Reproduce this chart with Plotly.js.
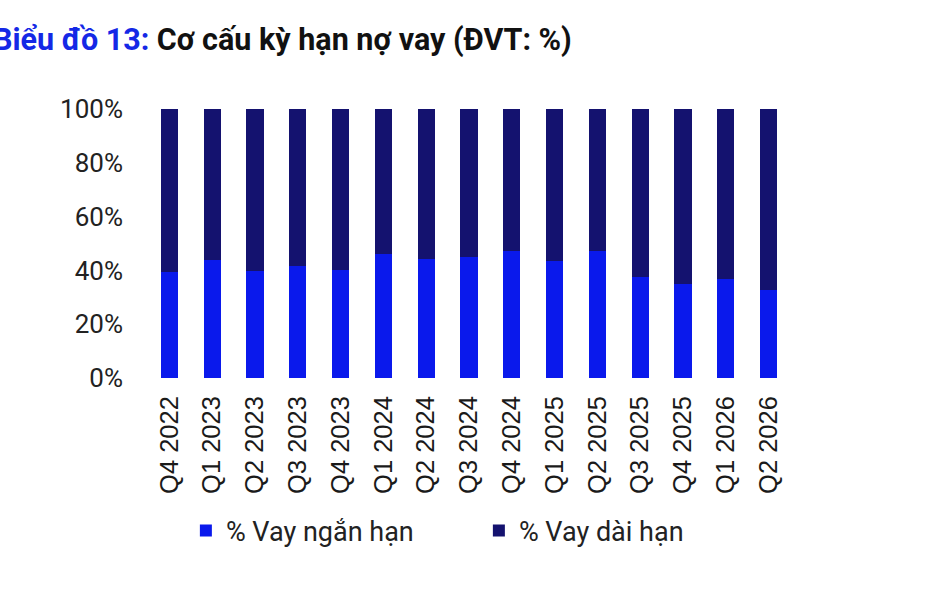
<!DOCTYPE html>
<html>
<head>
<meta charset="utf-8">
<script src="https://cdn.plot.ly/plotly-3.0.1.min.js"></script>
<style>
  html, body { margin: 0; padding: 0; background: #fff; }
  #chart { width: 934px; height: 598px; }
</style>
</head>
<body>
<div id="chart"></div>
<script>
// data
var quarters = ['Q4 2022','Q1 2023','Q2 2023','Q3 2023','Q4 2023','Q1 2024','Q2 2024','Q3 2024',
                'Q4 2024','Q1 2025','Q2 2025','Q3 2025','Q4 2025','Q1 2026','Q2 2026'];
var shortTerm = [39.3, 44.0, 39.8, 41.5, 40.0, 46.1, 44.2, 45.0, 47.3, 43.4, 47.3, 37.4, 34.8, 36.8, 32.6];
var longTerm = shortTerm.map(function(v){ return +(100 - v).toFixed(1); });
var seriesNames = ['% Vay ngắn hạn', '% Vay dài hạn'];
var yTicks = [0, 20, 40, 60, 80, 100];

var fontFam = 'Roboto, "Noto Sans", Arial, sans-serif';
var catFam = '"Liberation Sans", Arial, sans-serif';

var data = [
  {
    type: 'bar',
    name: seriesNames[0],
    x: quarters,
    y: shortTerm,
    marker: { color: '#0a19ec', line: { width: 0 } },
    hoverinfo: 'skip'
  },
  {
    type: 'bar',
    name: seriesNames[1],
    x: quarters,
    y: longTerm,
    marker: { color: '#14126f', line: { width: 0 } },
    hoverinfo: 'skip'
  }
];

var layout = {
  width: 934,
  height: 598,
  barmode: 'stack',
  bargap: 0.6,
  paper_bgcolor: '#fff',
  plot_bgcolor: '#fff',
  margin: { l: 148, r: 144, t: 109, b: 220, pad: 0 },
  font: { family: fontFam, color: '#222', size: 24 },
  xaxis: {
    type: 'category',
    tickangle: -90,
    showgrid: false,
    showline: false,
    zeroline: false,
    ticks: '',
    ticklabelstandoff: 12,
    tickfont: { family: catFam, size: 25.5, color: '#1a1a1a' }
  },
  yaxis: {
    range: [0, 100],
    tickvals: yTicks,
    ticktext: yTicks.map(function(v){ return v + '%'; }),
    showgrid: false,
    showline: false,
    zeroline: false,
    ticks: '',
    ticklabelstandoff: 24,
    tickfont: { family: fontFam, size: 26, color: '#222' }
  },
  showlegend: true,
  legend: {
    orientation: 'h',
    xref: 'paper',
    yref: 'paper',
    x: 0.059,
    xanchor: 'left',
    y: -0.569,
    yanchor: 'middle',
    entrywidth: 248,
    entrywidthmode: 'pixels',
    traceorder: 'normal',
    font: { family: fontFam, size: 27, color: '#222' }
  },
  annotations: [
    {
      xref: 'paper',
      yref: 'paper',
      x: -0.245,
      y: 1.257,
      xanchor: 'left',
      yanchor: 'middle',
      showarrow: false,
      text: '<b><span style="color:#1428e6">Biểu đồ 13:</span> Cơ cấu kỳ hạn nợ vay (ĐVT: %)</b>',
      font: { family: fontFam, size: 30.5, color: '#111' }
    }
  ]
};

Plotly.newPlot('chart', data, layout, { staticPlot: true, displayModeBar: false });
</script>
</body>
</html>
